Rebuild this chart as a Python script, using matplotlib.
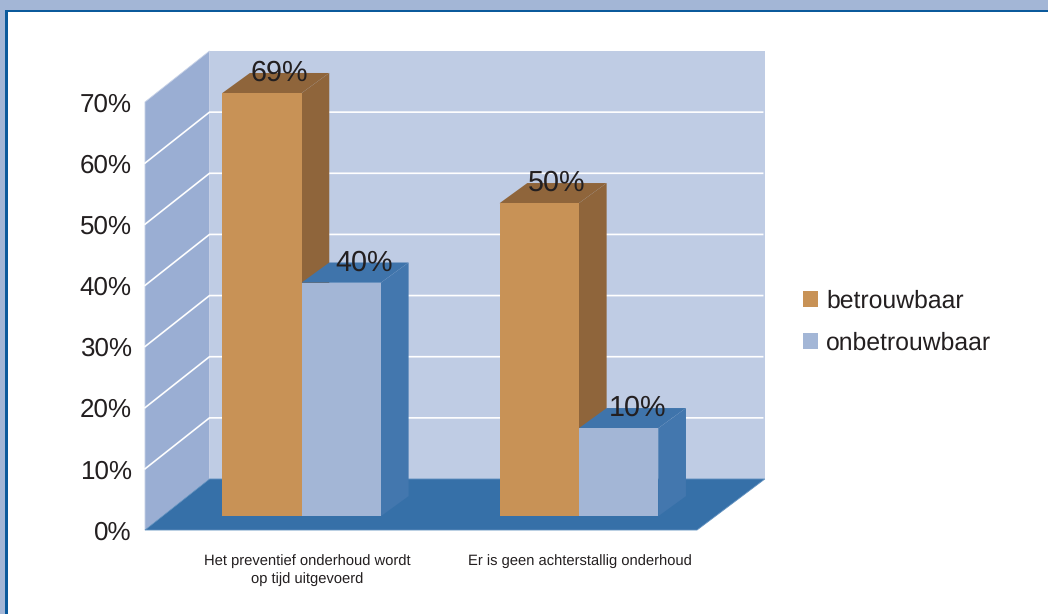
import numpy as np
import matplotlib
matplotlib.use("Agg")
import matplotlib.pyplot as plt
from matplotlib.patches import Polygon, Rectangle, Patch

plt.rcParams['font.family'] = ['Liberation Sans', 'DejaVu Sans']
plt.rcParams['text.hinting'] = 'no_hinting'
plt.rcParams['text.hinting_factor'] = 8

# ---- data ----
categories = ["Het preventief onderhoud wordt\nop tijd uitgevoerd",
              "Er is geen achterstallig onderhoud"]
series_names = ["betrouwbaar", "onbetrouwbaar"]
bar_labels = [["69%", "50%"], ["40%", "10%"]]
# heights as actually drawn in the picture (the 3D drawing does not follow its labels exactly)
bar_heights = [[69.2, 51.2], [38.2, 14.4]]
y_ticks = [0, 10, 20, 30, 40, 50, 60, 70]
y_tick_labels = ["0%", "10%", "20%", "30%", "40%", "50%", "60%", "70%"]

# ---- style ----
W, H = 1048, 614
TEXT = "#231F20"
WALL_BACK, WALL_SIDE, FLOOR = "#BFCCE4", "#9AAED3", "#3670A8"
FRONT = ["#C89256", "#A3B6D6"]
SIDE = ["#8F653B", "#4377AE"]
TOP = ["#8F653B", "#3F74AB"]
BAND, BORDER = "#A3B6D6", "#0B5A9C"

fig = plt.figure(figsize=(W / 100, H / 100), dpi=100, facecolor="white")

# page frame
bg = fig.add_axes([0, 0, 1, 1], zorder=0)
bg.set_xlim(0, W); bg.set_ylim(H, 0); bg.axis("off")
bg.add_patch(Rectangle((0, 0), W, 10, fc=BAND, ec="none"))
bg.add_patch(Rectangle((0, 0), 5, H, fc=BAND, ec="none"))
bg.add_patch(Rectangle((5, 10), W, 2.3, fc=BORDER, ec="none"))
bg.add_patch(Rectangle((5, 10), 3, H, fc=BORDER, ec="none"))

# front plane of the chart: 145..697 px wide, 102..530 px tall
L, R, B, T = 145, 697, 530, 102
ax = fig.add_axes([L / W, 1 - B / H, (R - L) / W, (B - T) / H], zorder=1)
ax.patch.set_alpha(0)
ax.set_xlim(0, 2)
ax.set_ylim(0, 70)
for s in ax.spines.values():
    s.set_visible(False)

DX = 64.5 / (R - L) * 2      # depth offset in x data units
DY = 51 / (B - T) * 70       # depth offset in y data units

def P(x, v, d, dy=None):
    return (x + d * DX, v + (d if dy is None else dy) * DY)

def poly(pts, fc, z, ec="none", lw=0):
    ax.add_patch(Polygon(pts, closed=True, fc=fc, ec=ec, lw=lw, zorder=z, clip_on=False))

ymax = y_ticks[-1]
XB = 2.012  # right end of the back wall
poly([P(0, 0, 1), P(XB, 0, 1), P(XB, ymax, 1), P(0, ymax, 1)], WALL_BACK, 1)
poly([P(0, 0, 0), P(0, 0, 1), P(0, ymax, 1), P(0, ymax, 0)], WALL_SIDE, 1, ec="#C5D0E6", lw=0.6)
poly([P(0, 0, 0), P(2, 0, 0), P(XB, 0, 1), P(0, 0, 1)], FLOOR, 2, ec="#5F8FBE", lw=0.6)

for v in y_ticks[1:-1]:
    x0, y0 = P(0, v, 0); x1, y1 = P(0, v, 1); x2, y2 = P(2.004, v, 1)
    ax.plot([x0, x1, x2], [y0, y1, y2], color="white", lw=1.2, zorder=3,
            clip_on=False, solid_joinstyle="miter")

# bars
BW = 0.2875
D0, D1X, D1Y = 0.27, 0.70, 0.665
group_shift = [0.004, 0.009]
z = 4
for c in range(len(categories)):
    for s in range(len(series_names)):
        x0 = c + 0.5 + group_shift[c] + (s - 1) * BW
        x1 = x0 + BW
        h = bar_heights[s][c]
        poly([P(x1, 0, D0), P(x1, 0, D1X, D1Y), P(x1, h, D1X, D1Y), P(x1, h, D0)], SIDE[s], z)
        poly([P(x0, h, D0), P(x1, h, D0), P(x1, h, D1X, D1Y), P(x0, h, D1X, D1Y)], TOP[s], z)
        fx, fy = P(x0, 0, D0)
        ax.bar(fx, h, BW, bottom=fy, align="edge", color=FRONT[s], zorder=z + 0.5, clip_on=False)
        z += 1

label_dx = [[17, 17], [23, 19]]
for s in range(len(series_names)):
    for c in range(len(categories)):
        x0 = c + 0.5 + group_shift[c] + (s - 1) * BW
        fx, fy = P(x0 + BW / 2, bar_heights[s][c], D0)
        ax.annotate(bar_labels[s][c], (fx, fy), xytext=(label_dx[s][c] * 0.72, 14.2),
                    textcoords="offset points", ha="center", va="center",
                    fontsize=20.7, color=TEXT, zorder=20, annotation_clip=False)

ax.set_yticks(y_ticks, y_tick_labels)
ax.set_xticks([0.587, 1.576], categories)
ax.tick_params(axis="y", length=0, pad=9.5, labelsize=18.7, labelcolor=TEXT)
ax.tick_params(axis="x", length=0, pad=17.5, labelsize=10.65, labelcolor=TEXT)
for t in ax.get_xticklabels():
    t.set_linespacing(1.33)

handles = [Patch(fc=FRONT[i], ec="none", label=series_names[i]) for i in range(2)]
fig.legend(handles=handles, loc="upper left", bbox_to_anchor=(803 / W, 1 - 290 / H),
           borderaxespad=0, borderpad=0, frameon=False, fontsize=17.8,
           handlelength=0.61, handleheight=0.61, handletextpad=0.32,
           labelspacing=0.75, labelcolor=TEXT)

fig.savefig("out.png", dpi=100, facecolor="white")
